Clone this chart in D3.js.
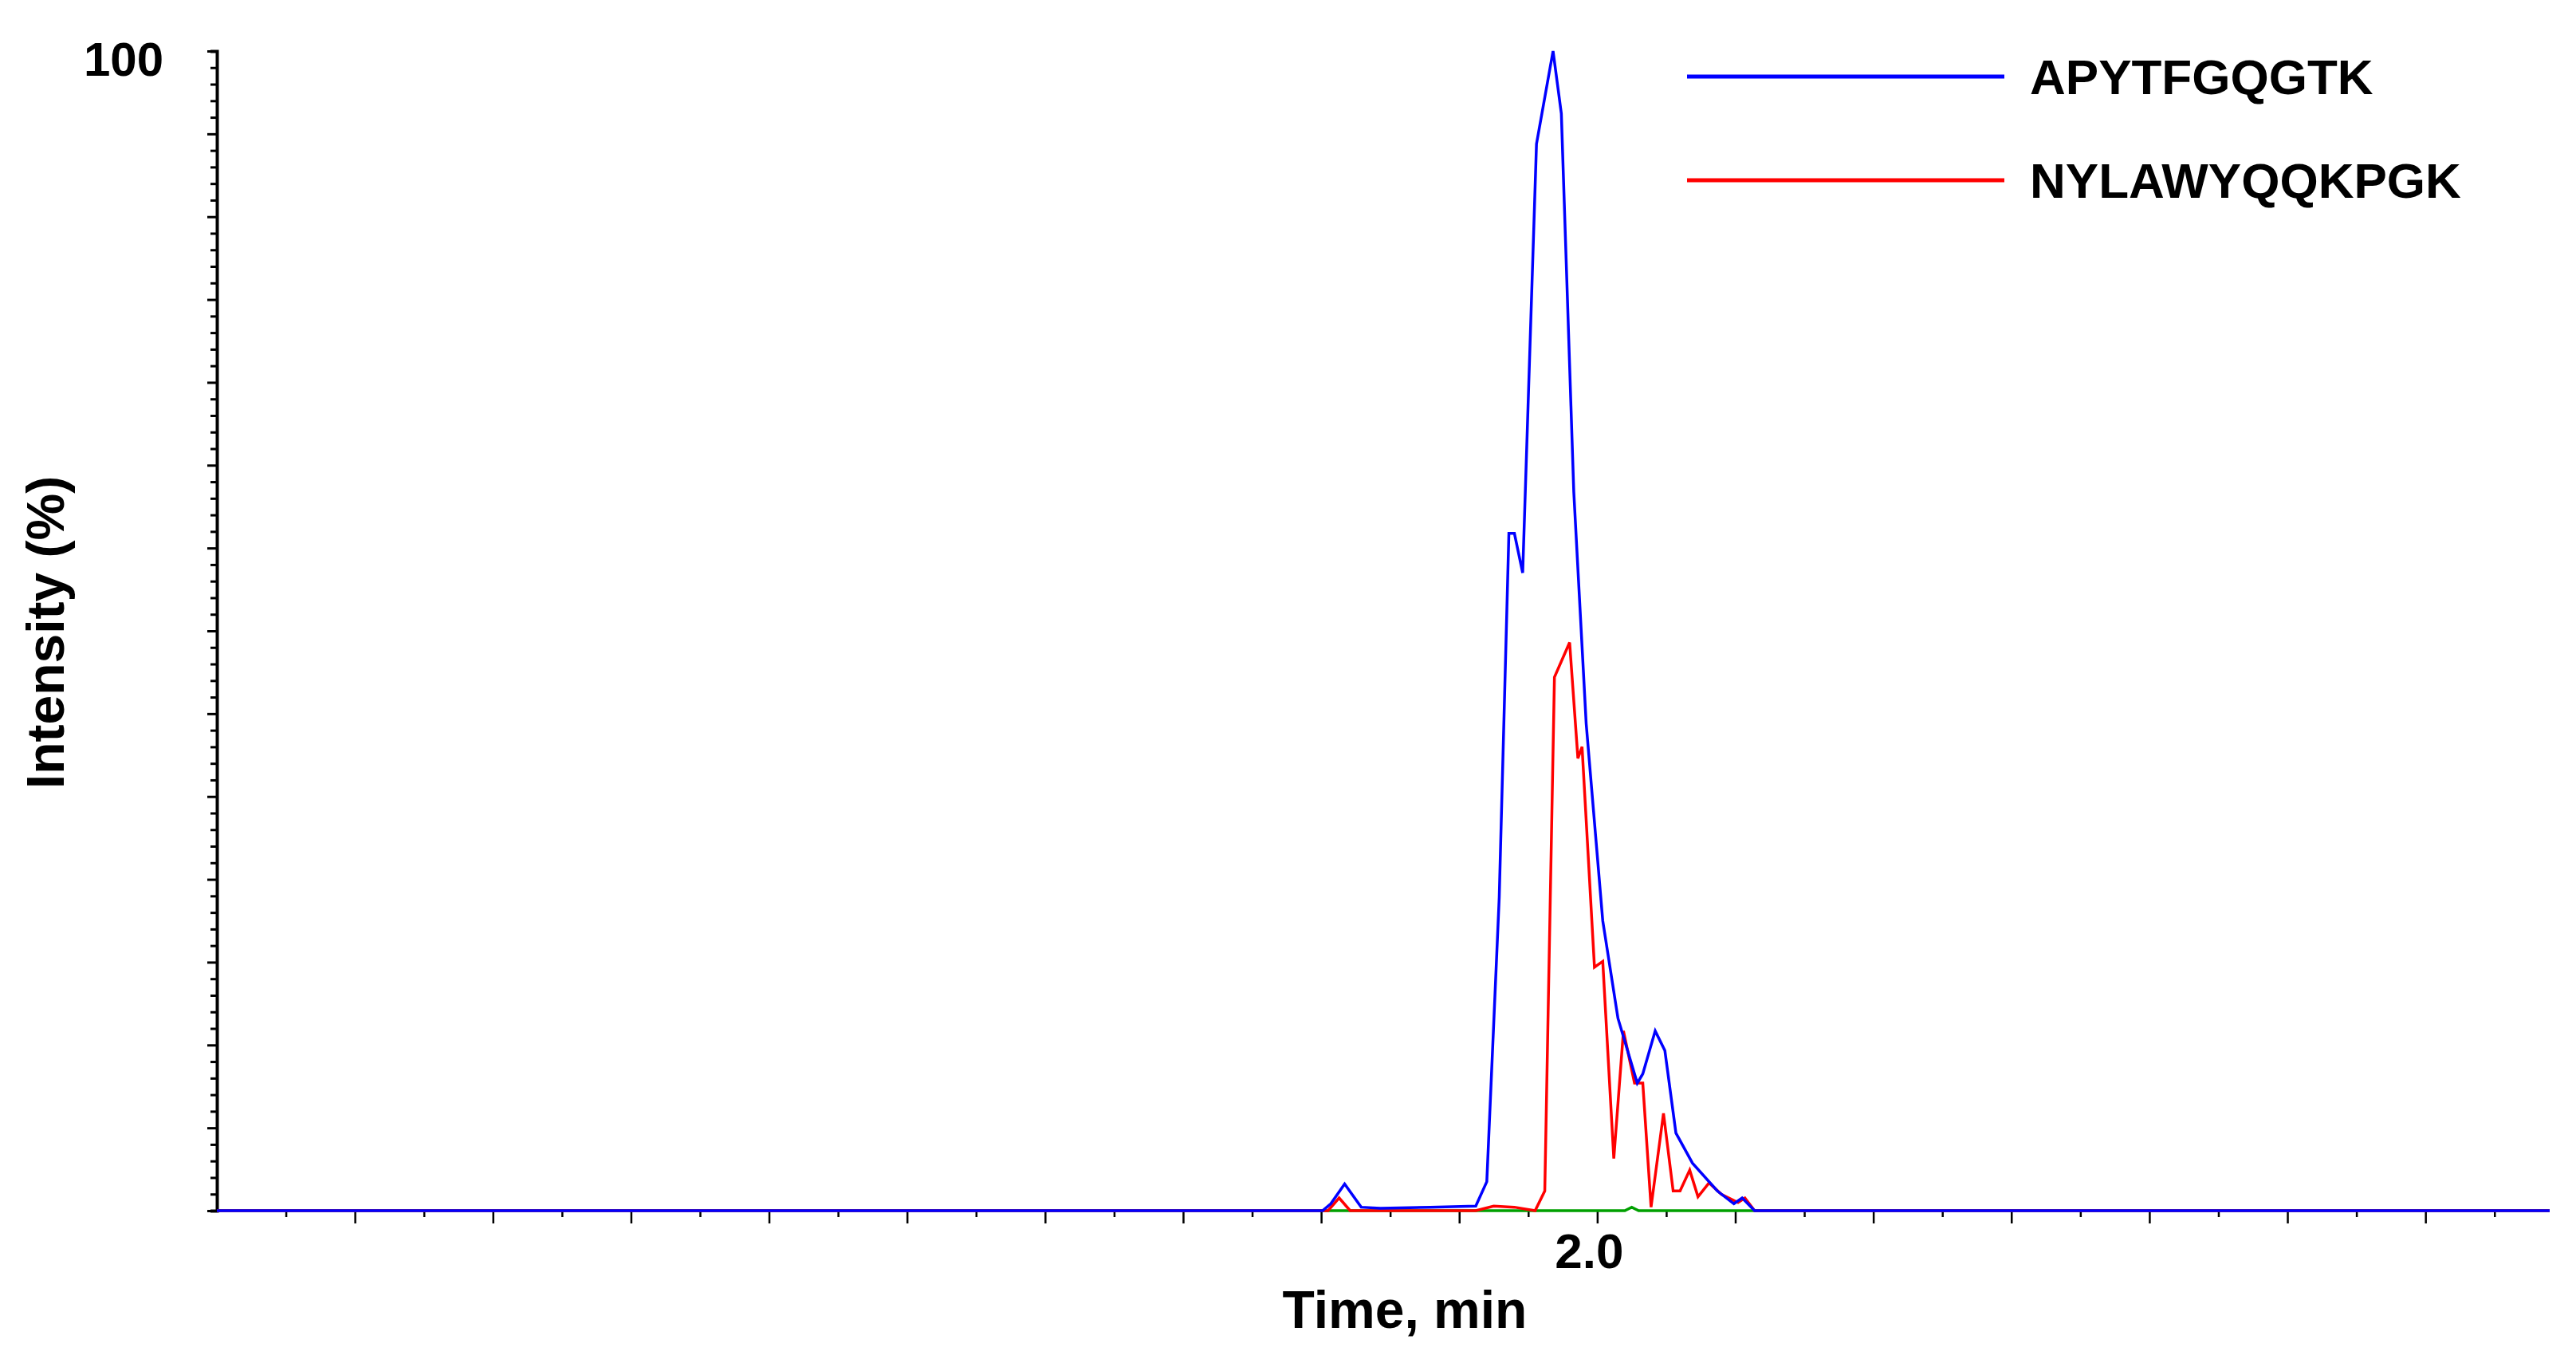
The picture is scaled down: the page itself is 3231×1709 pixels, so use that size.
<!DOCTYPE html>
<html>
<head>
<meta charset="utf-8">
<script src="https://cdn.jsdelivr.net/npm/d3@7"></script>
<style>
  body { margin: 0; background: #fff; }
  text { font-family: Arial, "Liberation Sans", sans-serif; font-weight: bold; }
</style>
</head>
<body>
<svg id="chart" width="3231" height="1709"></svg>
<script>
// time (min) / intensity (%)
const blueTime = [1.0, 1.801, 1.807, 1.817, 1.829, 1.843, 1.879, 1.912, 1.920, 1.929, 1.936, 1.940, 1.946, 1.956, 1.968, 1.974, 1.983, 1.992, 2.004, 2.015, 2.029, 2.033, 2.042, 2.049, 2.057, 2.069, 2.087, 2.099, 2.105, 2.114, 2.69];
const blueVal  = [0, 0, 0.6, 2.3, 0.3, 0.2, 0.3, 0.4, 2.5, 27, 58.4, 58.4, 55, 92, 100, 94.6, 62, 42, 25, 16.6, 11, 11.8, 15.5, 13.8, 6.7, 4.1, 1.7, 0.6, 1.1, 0, 0];
const redTime = [1.0, 1.805, 1.813, 1.821, 1.912, 1.925, 1.940, 1.955, 1.962, 1.969, 1.980, 1.986, 1.989, 1.998, 2.004, 2.012, 2.019, 2.027, 2.033, 2.039, 2.048, 2.055, 2.060, 2.067, 2.073, 2.081, 2.090, 2.102, 2.107, 2.114, 2.69];
const redVal  = [0, 0, 1.1, 0, 0, 0.4, 0.3, 0, 1.7, 46, 49, 39, 40, 21, 21.5, 4.5, 15.5, 11, 11, 0.3, 8.4, 1.7, 1.7, 3.5, 1.2, 2.4, 1.4, 0.7, 1.1, 0, 0];
const greenTime = [1.0, 1.80, 2.020, 2.025, 2.030, 2.114, 2.69];
const greenVal  = [0, 0, 0, 0.3, 0, 0, 0];
const seriesNames = ['APYTFGQGTK', 'NYLAWYQQKPGK'];
const xLabels = [2.0];

const svg = d3.select('#chart');
const plotLeft = 272, plotRight = 3198, plotTop = 64, plotBottom = 1518;

const x = d3.scaleLinear().domain([1.0, 2.69]).range([plotLeft, plotRight]);
const y = d3.scaleLinear().domain([0, 100]).range([plotBottom, plotTop]);

const zip = (t, v) => t.map((d, i) => [d, v[i]]);
const line = d3.line().x(d => x(d[0])).y(d => y(d[1]));

// y axis with minor ticks
const yTicks = d3.range(0, 71).map(i => i * 100 / 70);
const yAxis = svg.append('g').attr('transform', `translate(${plotLeft},0)`)
  .call(d3.axisLeft(y).tickValues(yTicks).tickSize(8).tickFormat(''));
yAxis.selectAll('line').attr('stroke', '#000').attr('stroke-width', 3)
  .attr('x2', (d, i) => i % 5 === 0 ? -12 : -8);
yAxis.select('.domain').attr('stroke', '#000').attr('stroke-width', 4);

// x axis ticks
const xTicks = d3.range(1.05, 2.69, 0.05);
const xAxis = svg.append('g').attr('transform', `translate(0,${plotBottom})`)
  .call(d3.axisBottom(x).tickValues(xTicks).tickSize(14).tickFormat(''));
xAxis.selectAll('line').attr('stroke', '#000').attr('stroke-width', 2.5)
  .attr('y2', (d, i) => i % 2 === 0 ? 8 : 16);
xAxis.select('.domain').remove();

svg.selectAll('.xlab').data(xLabels).enter().append('text')
  .attr('x', d => x(d) - 10).attr('y', 1590).attr('text-anchor', 'middle')
  .attr('font-size', 62).text(d => d.toFixed(1));

svg.append('text').attr('x', 105).attr('y', 95).attr('font-size', 60).text('100');

// series
const series = [
  { data: zip(greenTime, greenVal), color: '#00a000' },
  { data: zip(redTime, redVal), color: '#ff0000' },
  { data: zip(blueTime, blueVal), color: '#0000ff' }
];
svg.selectAll('.series').data(series).enter().append('path')
  .attr('d', d => line(d.data)).attr('fill', 'none')
  .attr('stroke', d => d.color).attr('stroke-width', 3.5);

// legend
const legColors = ['#0000ff', '#ff0000'];
seriesNames.forEach((n, i) => {
  const ly = 96 + i * 130;
  svg.append('line').attr('x1', 2116).attr('x2', 2514).attr('y1', ly).attr('y2', ly)
    .attr('stroke', legColors[i]).attr('stroke-width', 5);
  svg.append('text').attr('x', 2546).attr('y', ly + 22).attr('font-size', 62).text(n);
});

// axis titles
svg.append('text').attr('x', 1762).attr('y', 1665).attr('text-anchor', 'middle')
  .attr('font-size', 66).text('Time, min');
svg.append('text').attr('transform', 'translate(80,793) rotate(-90)')
  .attr('text-anchor', 'middle').attr('font-size', 66).text('Intensity (%)');
</script>
</body>
</html>
